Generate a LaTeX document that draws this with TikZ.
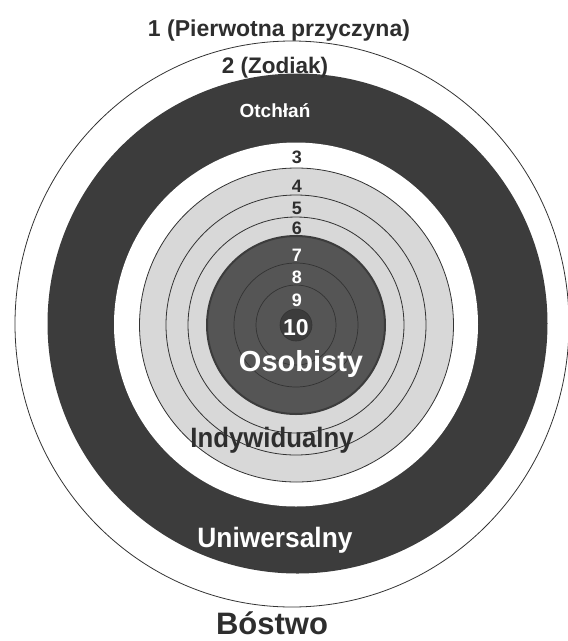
\documentclass[tikz,border=0pt]{standalone}
\usepackage{fontspec}
\setmainfont{Liberation Sans}
\usepackage{tikz}
\usetikzlibrary{positioning}
\definecolor{ringdark}{HTML}{3C3C3C}
\definecolor{ringgray}{HTML}{D8D8D8}
\definecolor{coredark}{HTML}{555555}
\definecolor{linedark}{HTML}{333333}
\definecolor{textdark}{HTML}{2E2E2E}

\newcommand{\fsz}[1]{\fontsize{#1}{#1}\selectfont\bfseries}

\begin{document}
\begin{tikzpicture}[x=1pt, y=-1pt,
    ringline/.style={draw=linedark, line width=0.8pt},
    label/.style={anchor=base, inner sep=0pt, text=textdark},
    whitelabel/.style={anchor=base, inner sep=0pt, text=white}]
    \useasboundingbox (0,0) rectangle (568,641);
    % outer ring (1) and the dark band (2)
    \draw[ringline] (292,324) ellipse[x radius=277, y radius=283];
    \fill[ringdark] (297.5,323.5) circle[radius=250];
    \fill[white] (296,324.5) circle[radius=182];
    % gray disk with rings 3..6
    \filldraw[fill=ringgray, ringline] (296.5,325) circle[radius=157];
    \foreach \r in {130,108} {
      \draw[ringline] (296,325) circle[radius=\r];
    }
    % dark core with rings 7..10
    \filldraw[fill=coredark, draw=ringdark, line width=2pt] (296,325) circle[radius=89];
    \foreach \r in {62,40} {
      \draw[draw=linedark, line width=0.7pt] (296,325) circle[radius=\r];
    }
    \filldraw[fill=ringdark, draw=linedark, line width=0.6pt] (296,325) circle[radius=16];
    % labels
    \node[label, font=\fsz{23}] (pierwotna) at (279,36) {1 (Pierwotna przyczyna)};
    \node[label, font=\fsz{22.5}] (zodiak) at (275,73) {2 (Zodiak)};
    \node[whitelabel, font=\fsz{19}] (otchlan) at (275,117) {Otchłań};
    \foreach \num/\ypos in {3/163,4/192,5/214,6/234} {
      \node[label, font=\fsz{18}] (n\num) at (297,\ypos) {\num};
    }
    \foreach \num/\ypos in {7/261,8/283,9/306} {
      \node[whitelabel, font=\fsz{18}] (n\num) at (297,\ypos) {\num};
    }
    \node[whitelabel, font=\fsz{23}] (n10) at (296,335) {10};
    \node[whitelabel, font=\fsz{29}] (osobisty) at (301,371) {Osobisty};
    \node[label, font=\fsz{28}] (indywidualny) at (272,447) {\scalebox{0.92}[1]{Indywidualny}};
    \node[whitelabel, font=\fsz{28}] (uniwersalny) at (275,547) {\scalebox{0.94}[1]{Uniwersalny}};
    \node[label, font=\fsz{31}] (bostwo) at (272,634) {Bóstwo};
\end{tikzpicture}
\end{document}
